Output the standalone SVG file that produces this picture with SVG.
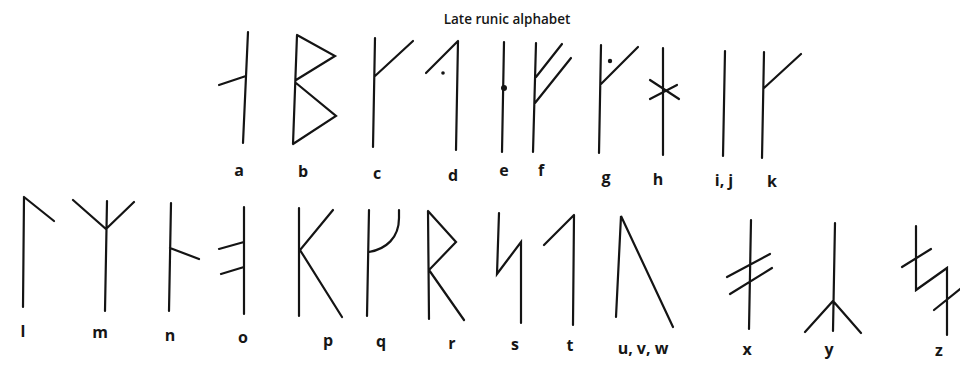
<svg xmlns="http://www.w3.org/2000/svg" width="960" height="365" viewBox="0 0 960 365">
<style>
.r{fill:none;stroke:#141414;stroke-width:2.2;stroke-linecap:round;stroke-linejoin:miter}
.d{fill:#141414}
.l{font-family:"Open Sans","Liberation Sans",sans-serif;font-weight:bold;font-size:16px;fill:#161616;text-anchor:middle}
.t{font-family:"Open Sans","Liberation Sans",sans-serif;font-weight:600;font-size:13.5px;fill:#161616;text-anchor:middle}
</style>
<rect width="960" height="365" fill="#ffffff"/>
<text class="t" x="507" y="24">Late runic alphabet</text>
<g id="rune-a"><path class="r" d="M248,32 L243,143 M246,76 L219,85"/><text class="l" x="239" y="176">a</text></g>
<g id="rune-b"><path class="r" d="M297,35 L293,144 M297,35 L335,56 L296,80 M296,83 L336,116 L293,144"/><text class="l" x="303" y="177">b</text></g>
<g id="rune-c"><path class="r" d="M375,38 L373,147 M375,76 L413,41"/><text class="l" x="377" y="179">c</text></g>
<g id="rune-d"><path class="r" d="M458,41 L456,150 M458,41 L426,73"/><circle class="d" cx="443" cy="73" r="1.8"/><text class="l" x="453" y="181">d</text></g>
<g id="rune-e"><path class="r" d="M504,42 L502,152"/><circle class="d" cx="504" cy="88" r="3"/><text class="l" x="504" y="176">e</text></g>
<g id="rune-f"><path class="r" d="M536,43 L533,152 M536,77 L562,44 M535,103 L571,58"/><text class="l" x="541" y="176">f</text></g>
<g id="rune-g"><path class="r" d="M601,45 L599,153 M601,84 L638,47"/><circle class="d" cx="610" cy="61" r="2.2"/><text class="l" x="606" y="183">g</text></g>
<g id="rune-h"><path class="r" d="M663,48 L663,155 M650,80 L679,99 M650,99 L677,85"/><text class="l" x="658" y="185">h</text></g>
<g id="rune-ij"><path class="r" d="M725,51 L723,156"/><text class="l" x="724" y="186">i, j</text></g>
<g id="rune-k"><path class="r" d="M764,52 L762,158 M764,88 L801,54"/><text class="l" x="772" y="187">k</text></g>
<g id="rune-l"><path class="r" d="M24,197 L23,307 M24,197 L54,221"/><text class="l" x="23" y="337">l</text></g>
<g id="rune-m"><path class="r" d="M107,201 L105,311 M73,200 L106,229 L134,202"/><text class="l" x="100" y="338">m</text></g>
<g id="rune-n"><path class="r" d="M171,203 L169,311 M170,248 L199,259"/><text class="l" x="170" y="341">n</text></g>
<g id="rune-o"><path class="r" d="M244,207 L244,314 M244,242 L219,249 M244,267 L221,274"/><text class="l" x="243" y="343">o</text></g>
<g id="rune-p"><path class="r" d="M299,208 L299,316 M333,210 L300,250 L342,317"/><text class="l" x="328" y="346">p</text></g>
<g id="rune-q"><path class="r" d="M369,210 L367,316 M369,252 C386,249 399,238 399,218 L399,210"/><text class="l" x="381" y="347">q</text></g>
<g id="rune-r"><path class="r" d="M428,211 L429,319 M428,211 L456,242 L429,270 L464,320"/><text class="l" x="452" y="349">r</text></g>
<g id="rune-s"><path class="r" d="M499,213 L497,274 L521,242 L521,323"/><text class="l" x="515" y="350">s</text></g>
<g id="rune-t"><path class="r" d="M574,215 L573,325 M574,215 L544,245"/><text class="l" x="570" y="351">t</text></g>
<g id="rune-uvw"><path class="r" d="M616,317 L621,216 L673,327"/><text class="l" x="643" y="354">u, v, w</text></g>
<g id="rune-x"><path class="r" d="M751,220 L749,329 M727,277 L770,254 M730,294 L772,268"/><text class="l" x="747" y="355">x</text></g>
<g id="rune-y"><path class="r" d="M835,223 L833,331 M805,332 L833,301 L861,333"/><text class="l" x="829" y="355">y</text></g>
<g id="rune-z"><path class="r" d="M916,226 L916,290 L947,268 L947,335 M902,267 L931,249 M934,310 L960,289"/><text class="l" x="939" y="356">z</text></g>
</svg>
